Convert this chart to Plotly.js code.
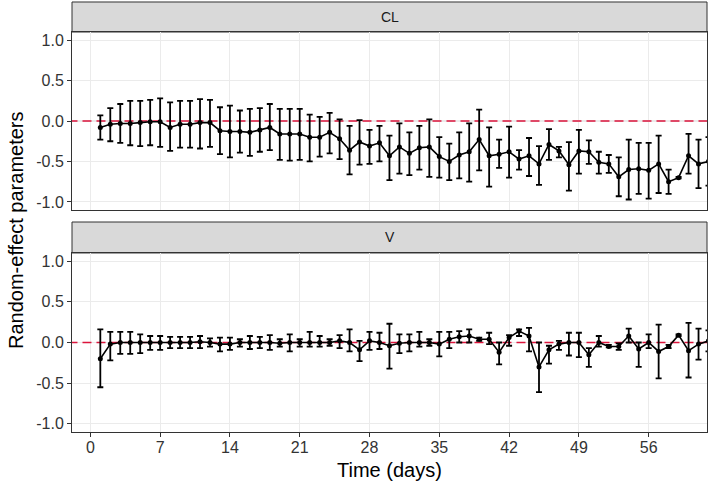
<!DOCTYPE html>
<html>
<head>
<meta charset="utf-8">
<script src="https://cdn.plot.ly/plotly-3.0.1.min.js"></script>
<style>html,body{margin:0;padding:0;background:#fff;}#chart{width:708px;height:488px;}</style>
</head>
<body>
<div id="chart"></div>
<script>
const days = [];
for (let d = 1; d <= 62; d++) days.push(d);

const clMean = [-0.08,-0.04,-0.03,-0.03,-0.02,-0.01,-0.01,-0.08,-0.04,-0.04,-0.02,-0.02,-0.12,-0.13,-0.13,-0.14,-0.11,-0.08,-0.16,-0.16,
  -0.16,-0.20,-0.20,-0.14,-0.22,-0.36,-0.26,-0.31,-0.27,-0.43,-0.32,-0.40,-0.33,-0.32,-0.44,-0.50,-0.42,-0.38,-0.23,-0.43,
  -0.41,-0.38,-0.47,-0.43,-0.53,-0.29,-0.37,-0.54,-0.37,-0.38,-0.51,-0.53,-0.69,-0.60,-0.59,-0.61,-0.53,-0.75,-0.70,-0.43,-0.53,-0.50];
const clUpper = [0.07,0.16,0.21,0.25,0.25,0.26,0.28,0.23,0.25,0.25,0.27,0.26,0.17,0.19,0.13,0.15,0.16,0.21,0.15,0.15,
  0.15,0.08,0.05,0.10,0.02,-0.06,0.01,-0.11,-0.06,-0.18,-0.03,-0.14,-0.06,0.02,-0.20,-0.28,-0.14,-0.03,0.14,-0.08,
  -0.23,-0.07,-0.36,-0.21,-0.31,-0.10,-0.32,-0.26,-0.11,-0.24,-0.38,-0.42,-0.45,-0.23,-0.27,-0.27,-0.18,-0.60,-0.69,-0.16,-0.23,-0.20];
const clLower = [-0.23,-0.25,-0.27,-0.30,-0.31,-0.30,-0.32,-0.37,-0.33,-0.33,-0.34,-0.32,-0.41,-0.45,-0.39,-0.43,-0.38,-0.36,-0.48,-0.49,
  -0.48,-0.50,-0.44,-0.40,-0.47,-0.66,-0.54,-0.53,-0.50,-0.73,-0.65,-0.67,-0.60,-0.69,-0.70,-0.73,-0.71,-0.75,-0.61,-0.81,
  -0.58,-0.70,-0.60,-0.68,-0.79,-0.48,-0.45,-0.86,-0.65,-0.53,-0.65,-0.64,-0.93,-0.97,-0.90,-0.96,-0.89,-0.90,-0.71,-0.65,-0.83,-0.80];

const vMean = [-0.20,-0.02,0.00,0.00,0.00,0.00,0.00,0.00,0.00,0.00,0.01,0.00,-0.02,-0.02,0.00,0.00,0.00,0.00,-0.01,0.00,
  0.00,0.00,0.00,0.00,0.02,0.00,-0.09,0.02,0.00,-0.04,-0.01,0.00,0.00,0.00,-0.02,0.04,0.07,0.08,0.04,0.04,
  -0.12,0.06,0.14,0.08,-0.30,-0.09,-0.02,0.00,0.00,-0.15,0.00,-0.05,-0.05,0.08,-0.08,0.00,-0.11,-0.05,0.09,-0.10,-0.02,0.02];
const vUpper = [0.16,0.13,0.13,0.13,0.10,0.08,0.08,0.07,0.07,0.07,0.08,0.05,0.06,0.06,0.04,0.08,0.07,0.09,0.04,0.10,
  0.04,0.13,0.08,0.04,0.09,0.16,0.02,0.13,0.12,0.23,0.10,0.10,0.13,0.04,0.13,0.13,0.14,0.16,0.06,0.12,
  0.00,0.09,0.16,0.18,0.00,-0.04,0.02,0.12,0.12,-0.07,0.08,-0.03,-0.01,0.17,0.00,0.10,0.22,-0.03,0.10,0.24,0.17,0.15];
const vLower = [-0.55,-0.22,-0.14,-0.14,-0.13,-0.09,-0.09,-0.07,-0.07,-0.07,-0.07,-0.05,-0.11,-0.09,-0.05,-0.08,-0.07,-0.09,-0.05,-0.11,
  -0.05,-0.05,-0.05,-0.04,-0.07,-0.11,-0.23,-0.09,-0.08,-0.32,-0.13,-0.11,-0.05,-0.04,-0.17,-0.07,0.00,0.00,0.02,-0.02,
  -0.27,-0.04,0.08,-0.11,-0.61,-0.26,-0.09,-0.16,-0.18,-0.30,-0.05,-0.06,-0.09,0.00,-0.30,-0.07,-0.44,-0.07,0.08,-0.43,-0.21,-0.11];

const panelNames = ["CL", "V"];
const xTickVals = [0, 7, 14, 21, 28, 35, 42, 49, 56];
const yTickVals = [1.0, 0.5, 0.0, -0.5, -1.0];
const yTickText = ["1.0", "0.5", "0.0", "-0.5", "-1.0"];
const xTitle = "Time (days)";
const yTitle = "Random-effect parameters";

const FONT = "Liberation Sans, Arial, Helvetica, sans-serif";
const red = "#DC143C";

function errTrace(mean, upper, lower, xa, ya) {
  return {
    x: days, y: mean, xaxis: xa, yaxis: ya, type: "scatter", mode: "lines+markers",
    line: {color: "#000", width: 1.6},
    marker: {color: "#000", size: 5},
    error_y: {
      type: "data", symmetric: false,
      array: upper.map((u, i) => u - mean[i]),
      arrayminus: mean.map((m, i) => m - lower[i]),
      color: "#000", thickness: 1.8, width: 3
    },
    showlegend: false, hoverinfo: "x+y"
  };
}
function zeroLine(xa, ya) {
  return {
    x: [-5, 70], y: [0, 0], xaxis: xa, yaxis: ya, type: "scatter", mode: "lines",
    line: {color: red, width: 1.6, dash: "9px,5px"}, showlegend: false, hoverinfo: "skip"
  };
}

const data = [
  zeroLine("x", "y"), errTrace(clMean, clUpper, clLower, "x", "y"),
  zeroLine("x2", "y2"), errTrace(vMean, vUpper, vLower, "x2", "y2")
];

const xr = [-1.84, 61.85];
const yr = [-1.1, 1.1];
const gridC = "#EBEBEB";
const tickFont = {family: FONT, size: 16, color: "#333333"};
const axisCommon = {
  showgrid: true, gridcolor: gridC, gridwidth: 1.1, zeroline: false,
  showline: true, mirror: true, linecolor: "#333333", linewidth: 1
};
const clDom = [0.5139, 0.9259];
const vDom = [0, 0.4144];
const strip1 = [0.9259, 0.9954];
const strip2 = [0.4144, 0.4861];

const layout = {
  width: 708, height: 488,
  margin: {l: 72, r: 1, t: 0, b: 56},
  paper_bgcolor: "#fff", plot_bgcolor: "#fff",
  font: {family: FONT, size: 16, color: "#333333"},
  xaxis: Object.assign({}, axisCommon, {
    domain: [0, 1], range: xr, anchor: "y", tickvals: xTickVals,
    showticklabels: false, ticks: ""
  }),
  yaxis: Object.assign({}, axisCommon, {
    domain: clDom, range: yr, anchor: "x", tickvals: yTickVals, ticktext: yTickText,
    ticks: "outside", ticklen: 4, tickcolor: "#333333", tickwidth: 1, tickfont: tickFont
  }),
  xaxis2: Object.assign({}, axisCommon, {
    domain: [0, 1], range: xr, anchor: "y2", tickvals: xTickVals,
    ticks: "outside", ticklen: 4, tickcolor: "#333333", tickwidth: 1, tickfont: tickFont,
    ticklabelstandoff: -3
  }),
  yaxis2: Object.assign({}, axisCommon, {
    domain: vDom, range: yr, anchor: "x2", tickvals: yTickVals, ticktext: yTickText,
    ticks: "outside", ticklen: 4, tickcolor: "#333333", tickwidth: 1, tickfont: tickFont
  }),
  shapes: [
    {type: "rect", xref: "paper", yref: "paper", x0: 0, x1: 1, y0: strip1[0], y1: strip1[1],
     fillcolor: "#D9D9D9", line: {color: "#333333", width: 1}, layer: "below"},
    {type: "rect", xref: "paper", yref: "paper", x0: 0, x1: 1, y0: strip2[0], y1: strip2[1],
     fillcolor: "#D9D9D9", line: {color: "#333333", width: 1}, layer: "below"}
  ],
  annotations: [
    {text: panelNames[0], xref: "paper", yref: "paper", x: 0.5, y: (strip1[0] + strip1[1]) / 2,
     showarrow: false, font: {family: FONT, size: 14, color: "#1A1A1A"}, xanchor: "center", yanchor: "middle"},
    {text: panelNames[1], xref: "paper", yref: "paper", x: 0.5, y: (strip2[0] + strip2[1]) / 2,
     showarrow: false, font: {family: FONT, size: 14, color: "#1A1A1A"}, xanchor: "center", yanchor: "middle"},
    {text: xTitle, xref: "paper", yref: "paper", x: 0.5, y: 0, yshift: -38,
     showarrow: false, font: {family: FONT, size: 20, color: "#000"}, xanchor: "center", yanchor: "middle"},
    {text: yTitle, xref: "paper", yref: "paper", x: 0, xshift: -56, y: 0.4676, textangle: -90,
     showarrow: false, font: {family: FONT, size: 20, color: "#000"}, xanchor: "center", yanchor: "middle"}
  ]
};

Plotly.newPlot("chart", data, layout, {displayModeBar: false, staticPlot: true});
</script>
</body>
</html>
